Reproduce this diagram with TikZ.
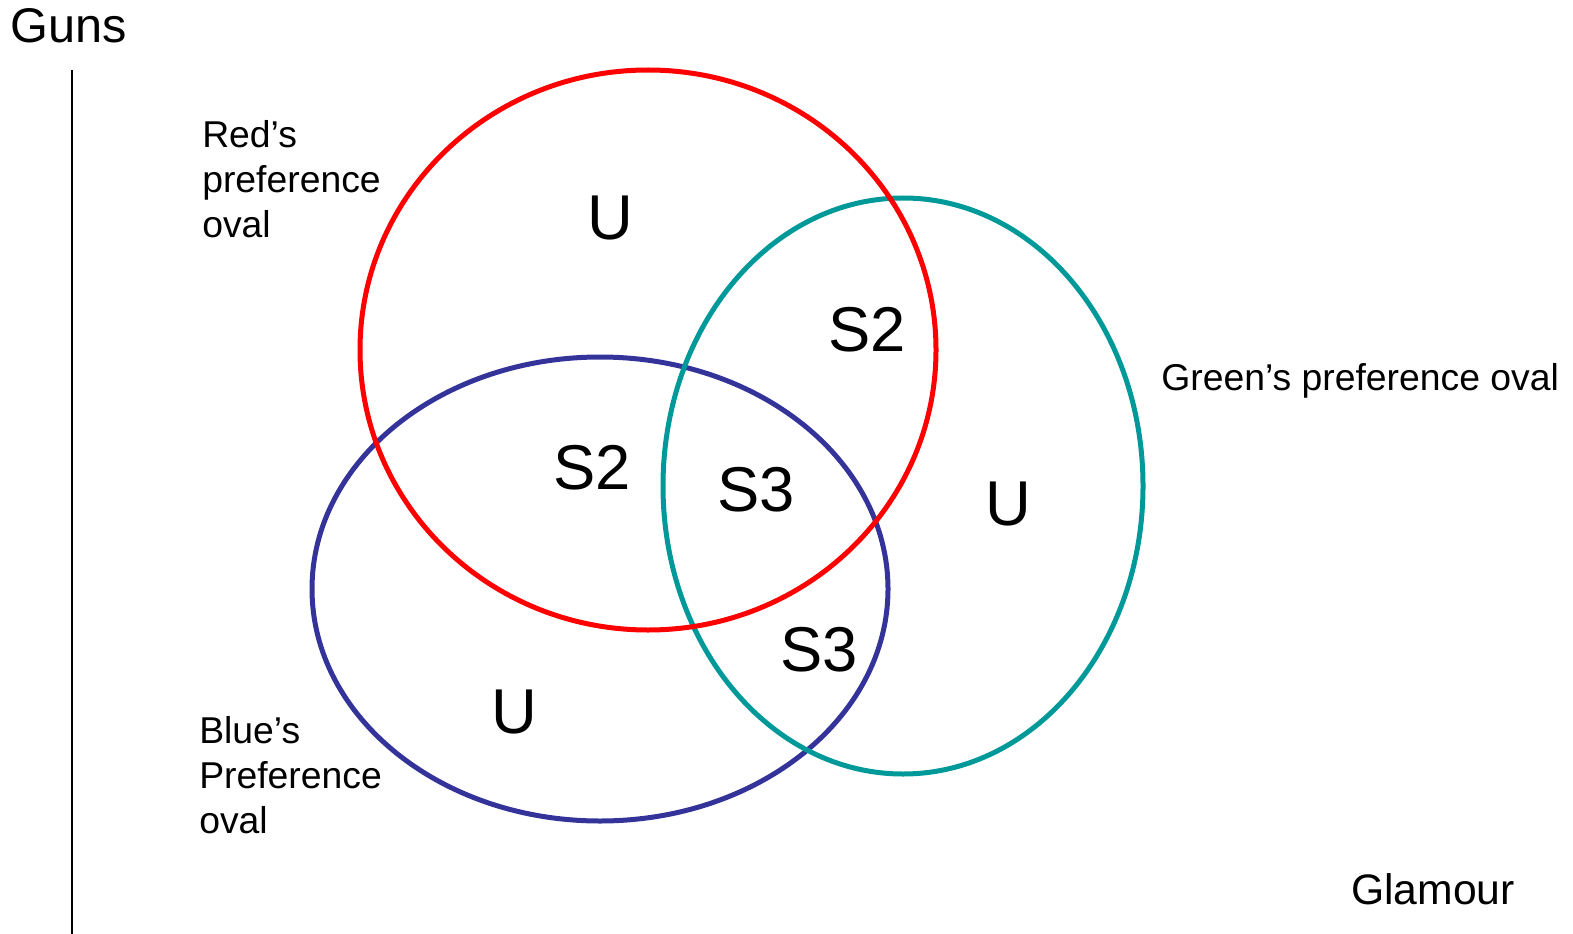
\documentclass[tikz,border=0pt]{standalone}
\usepackage{fontspec}
\setmainfont{Liberation Sans}
\definecolor{redoval}{HTML}{FF0000}
\definecolor{greenoval}{HTML}{009999}
\definecolor{blueoval}{HTML}{333399}
\begin{document}
\begin{tikzpicture}[x=0.75pt,y=-0.75pt,
  oval/.style={line width=3.75pt},
  region/.style={anchor=base,inner sep=0pt,font=\fontsize{47.5pt}{52pt}\selectfont},
  caption/.style={anchor=base west,inner sep=0pt,align=left,
    font=\fontsize{28pt}{33.75pt}\selectfont},
  axisname/.style={anchor=base west,inner sep=0pt}]
\useasboundingbox[fill=white] (0,0) rectangle (1573,934);

% vertical axis
\coordinate (axtop) at (72,70);
\coordinate (axbot) at (72,934);
\draw[line width=1.5pt] (axtop) -- (axbot);

% preference ovals (blue below green below red)
\draw[oval,blueoval] (600,589) ellipse [x radius=288, y radius=232];
\draw[oval,greenoval] (903,486) ellipse [x radius=240, y radius=288];
\draw[oval,redoval] (648,350) ellipse [x radius=288, y radius=280];

% axis names
\node[axisname,font=\fontsize{36.5pt}{40pt}\selectfont] (guns) at (10,43) {Guns};
\node[axisname,font=\fontsize{32pt}{36pt}\selectfont] (glamour) at (1351,904) {Glamour};

% oval captions (base anchor sits on the last line)
\node[caption] (redcap) at (202,238) {Red’s\\preference\\oval};
\node[caption] (bluecap) at (199,833) {Blue’s\\Preference\\oval};
\node[caption] (greencap) at (1161,390) {Green’s preference oval};

% region labels
\node[region] (ured) at (610,240) {U};
\node[region] (s2rg) at (867,351) {S2};
\node[region] (s2rb) at (592,489) {S2};
\node[region] (s3all) at (756,511) {S3};
\node[region] (s3gb) at (819,671) {S3};
\node[region] (ugreen) at (1008,525) {U};
\node[region] (ublue) at (514,733) {U};
\end{tikzpicture}
\end{document}
